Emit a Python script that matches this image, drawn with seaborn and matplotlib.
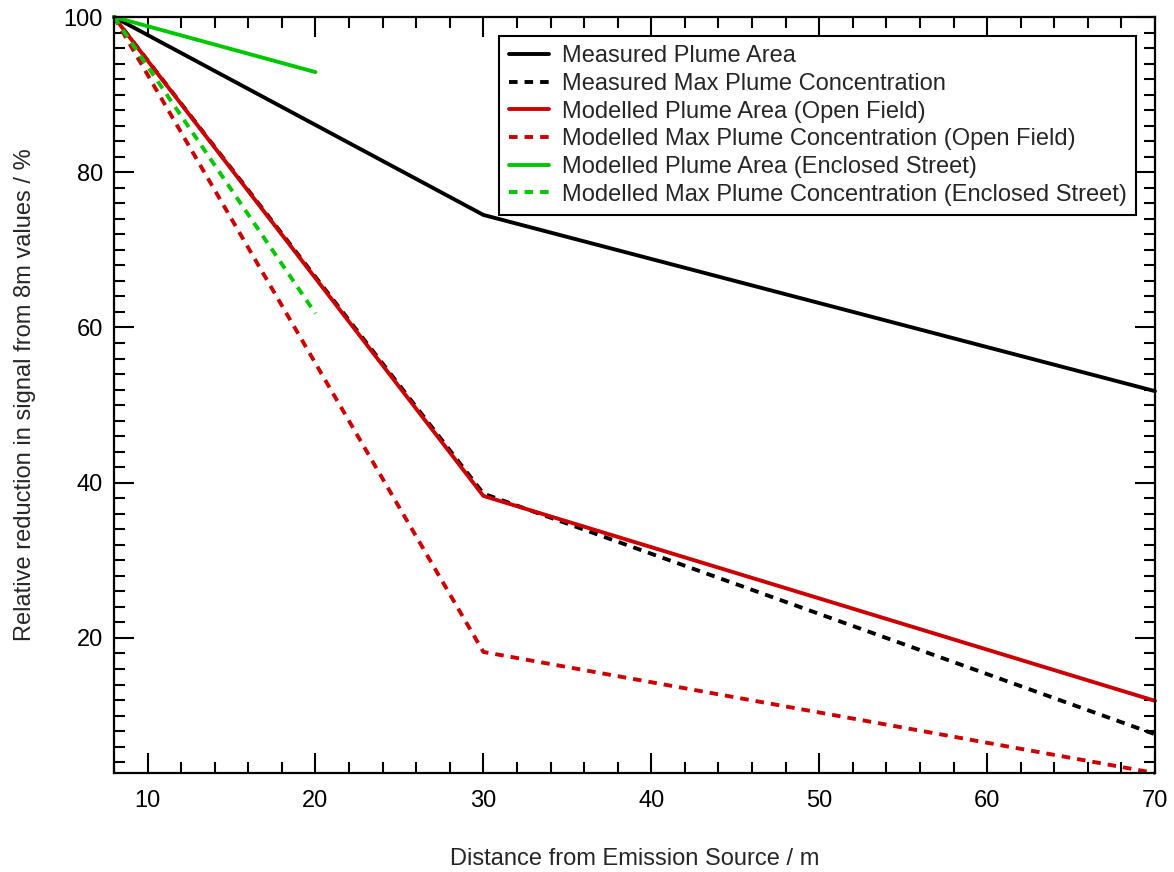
import numpy as np
import pandas as pd
import matplotlib
matplotlib.use("Agg")
import matplotlib.pyplot as plt
from matplotlib.ticker import MultipleLocator
import seaborn as sns

# data
dist_long = [8, 30, 70]
dist_short = [8, 20]

meas_area = [100, 74.5, 51.8]
meas_conc = [100, 38.6, 7.6]
open_area = [100, 38.3, 11.9]
open_conc = [100, 18.2, 2.6]
encl_area = [100, 92.9]
encl_conc = [100, 61.8]

labels = [
    "Measured Plume Area",
    "Measured Max Plume Concentration",
    "Modelled Plume Area (Open Field)",
    "Modelled Max Plume Concentration (Open Field)",
    "Modelled Plume Area (Enclosed Street)",
    "Modelled Max Plume Concentration (Enclosed Street)",
]

sns.set_style("ticks")
plt.rcParams["font.family"] = ["Liberation Sans", "DejaVu Sans"]
plt.rcParams["font.size"] = 17

BLACK = "#000000"
RED = "#CC0000"
GREEN = "#00C800"
DASH = (0, (2.2, 1.8))

fig = plt.figure(figsize=(11.74, 8.72), dpi=100)
ax = fig.add_axes([0.0971, 0.1135, 0.8867, 0.867])

series = [
    (dist_long, meas_area, BLACK, "-"),
    (dist_long, meas_conc, BLACK, DASH),
    (dist_long, open_area, RED, "-"),
    (dist_long, open_conc, RED, DASH),
    (dist_short, encl_area, GREEN, "-"),
    (dist_short, encl_conc, GREEN, DASH),
]

for (x, y, c, ls), lab in zip(series, labels):
    sns.lineplot(x=x, y=y, ax=ax, color=c, linestyle=ls, lw=2.8,
                 label=lab, clip_on=False)

ax.set_xlim(8, 70)
ax.set_ylim(2.6, 100)
ax.xaxis.set_major_locator(MultipleLocator(10))
ax.xaxis.set_minor_locator(MultipleLocator(2))
ax.yaxis.set_major_locator(MultipleLocator(20))
ax.yaxis.set_minor_locator(MultipleLocator(2))
ax.set_yticks([20, 40, 60, 80, 100])

ax.tick_params(which="both", direction="in", top=True, right=True,
               width=1.5, colors="black")
ax.tick_params(which="major", length=14.5)
ax.tick_params(which="minor", length=8)
ax.tick_params(axis="x", which="major", pad=12)
ax.tick_params(axis="y", which="major", pad=8)

for s in ax.spines.values():
    s.set_linewidth(1.6)
    s.set_color("black")

ax.set_xlabel("Distance from Emission Source / m", labelpad=26)
ax.set_ylabel("Relative reduction in signal from 8m values / %", labelpad=20)

leg = ax.legend(loc="upper right", frameon=True, fancybox=False,
                borderaxespad=0.8, handlelength=1.7, handletextpad=0.55,
                labelspacing=0.24, borderpad=0.4, fontsize=17)
leg.get_frame().set_edgecolor("black")
leg.get_frame().set_linewidth(1.5)
leg.get_frame().set_alpha(1)

fig.savefig("out.png", dpi=100)
